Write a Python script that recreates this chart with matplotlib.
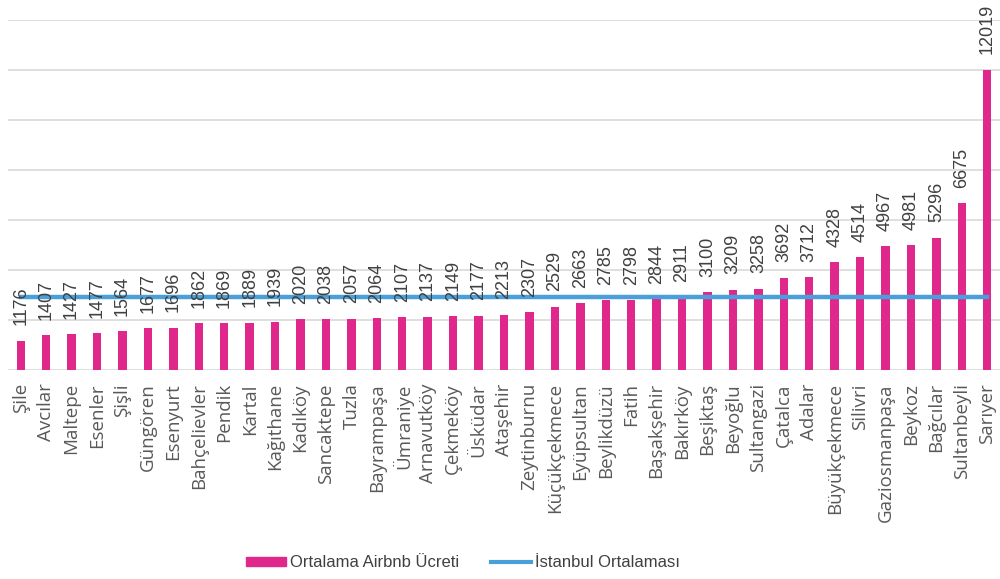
import matplotlib.pyplot as plt
from matplotlib.patches import Patch
from matplotlib.lines import Line2D

districts = ["Şile", "Avcılar", "Maltepe", "Esenler", "Şişli", "Güngören", "Esenyurt",
             "Bahçelievler", "Pendik", "Kartal", "Kağıthane", "Kadıköy", "Sancaktepe", "Tuzla",
             "Bayrampaşa", "Ümraniye", "Arnavutköy", "Çekmeköy", "Üsküdar", "Ataşehir",
             "Zeytinburnu", "Küçükçekmece", "Eyüpsultan", "Beylikdüzü", "Fatih", "Başakşehir",
             "Bakırköy", "Beşiktaş", "Beyoğlu", "Sultangazi", "Çatalca", "Adalar",
             "Büyükçekmece", "Silivri", "Gaziosmanpaşa", "Beykoz", "Bağcılar", "Sultanbeyli",
             "Sarıyer"]
prices = [1176, 1407, 1427, 1477, 1564, 1677, 1696, 1862, 1869, 1889, 1939, 2020, 2038, 2057,
          2064, 2107, 2137, 2149, 2177, 2213, 2307, 2529, 2663, 2785, 2798, 2844, 2911, 3100,
          3209, 3258, 3692, 3712, 4328, 4514, 4967, 4981, 5296, 6675, 12019]
istanbul_avg = 2930

bar_color = '#E0288C'
line_color = '#4A9FD8'

fig = plt.figure(figsize=(10, 5.79), dpi=100)
ax = fig.add_axes([0.008, 0.361, 0.992, 0.6045])

x = list(range(len(districts)))
ax.bar(x, prices, width=0.33, color=bar_color, zorder=2)
ax.plot([x[0], x[-1]], [istanbul_avg, istanbul_avg], color=line_color, lw=3.2, zorder=3)

# value labels above the bars
for xi, v in zip(x, prices):
    ax.annotate(str(v), (xi, v), xytext=(0, 11), textcoords='offset points',
                rotation=90, ha='center', va='bottom', fontsize=13,
                family=['Liberation Sans Narrow', 'Liberation Sans'], color='#404040',
                annotation_clip=False)

ax.set_xlim(-0.5, len(districts) - 0.5)
ax.set_ylim(0, 14000)
ax.set_yticks(range(0, 14001, 2000))
ax.yaxis.grid(True, color='#d9d9d9', lw=1.2, zorder=0)
ax.tick_params(axis='y', left=False, labelleft=False)
ax.tick_params(axis='x', bottom=False, pad=6)
ax.set_xticks(x)
ax.set_xticklabels(districts, rotation=90, fontsize=13.5, family='Open Sans', color='#595959')
for s in ax.spines.values():
    s.set_visible(False)

handles = [Patch(color=bar_color), Line2D([], [], color=line_color, lw=3)]
fig.legend(handles, ["Ortalama Airbnb Ücreti", "İstanbul Ortalaması"], loc='center',
           bbox_to_anchor=(0.463, 0.028), ncol=2, frameon=False,
           prop={'family': 'Liberation Sans', 'size': 12}, handlelength=2.4,
           handleheight=0.45, handletextpad=0.25, columnspacing=1.9, labelcolor='#404040')

fig.savefig('out.png')
plt.close(fig)
